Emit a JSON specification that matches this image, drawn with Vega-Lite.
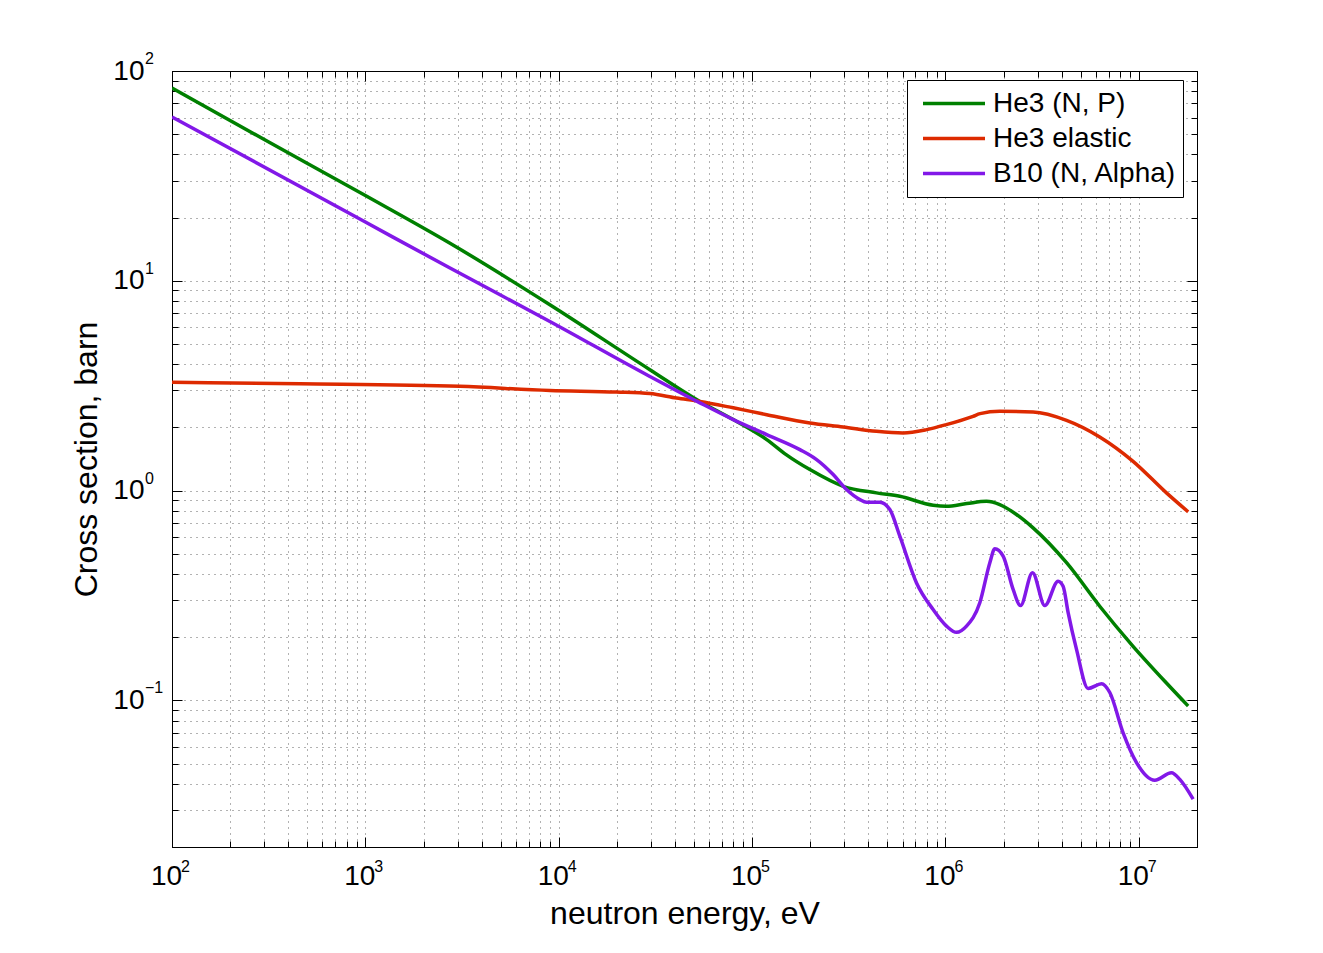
{
  "$schema": "https://vega.github.io/schema/vega-lite/v6.json",
  "width": 1025,
  "height": 776,
  "autosize": {"type": "none"},
  "padding": {"left": 172, "top": 71, "right": 126, "bottom": 106},
  "background": "white",
  "datasets": {
    "curves": [
      {"reaction": "He3 (N, P)", "energy": 100, "xs": 83.0},
      {"reaction": "He3 (N, P)", "energy": 300, "xs": 47.1},
      {"reaction": "He3 (N, P)", "energy": 1000, "xs": 25.5},
      {"reaction": "He3 (N, P)", "energy": 2740, "xs": 15.1},
      {"reaction": "He3 (N, P)", "energy": 9000, "xs": 7.69},
      {"reaction": "He3 (N, P)", "energy": 29600, "xs": 3.77},
      {"reaction": "He3 (N, P)", "energy": 53700, "xs": 2.66},
      {"reaction": "He3 (N, P)", "energy": 79900, "xs": 2.18},
      {"reaction": "He3 (N, P)", "energy": 119000, "xs": 1.75},
      {"reaction": "He3 (N, P)", "energy": 150000, "xs": 1.484},
      {"reaction": "He3 (N, P)", "energy": 199000, "xs": 1.259},
      {"reaction": "He3 (N, P)", "energy": 296000, "xs": 1.048},
      {"reaction": "He3 (N, P)", "energy": 440000, "xs": 0.975},
      {"reaction": "He3 (N, P)", "energy": 581000, "xs": 0.939},
      {"reaction": "He3 (N, P)", "energy": 864000, "xs": 0.851},
      {"reaction": "He3 (N, P)", "energy": 1010000, "xs": 0.842},
      {"reaction": "He3 (N, P)", "energy": 1290000, "xs": 0.867},
      {"reaction": "He3 (N, P)", "energy": 1630000, "xs": 0.889},
      {"reaction": "He3 (N, P)", "energy": 1910000, "xs": 0.858},
      {"reaction": "He3 (N, P)", "energy": 2330000, "xs": 0.769},
      {"reaction": "He3 (N, P)", "energy": 2840000, "xs": 0.664},
      {"reaction": "He3 (N, P)", "energy": 4230000, "xs": 0.453},
      {"reaction": "He3 (N, P)", "energy": 6280000, "xs": 0.281},
      {"reaction": "He3 (N, P)", "energy": 9340000, "xs": 0.181},
      {"reaction": "He3 (N, P)", "energy": 13900000, "xs": 0.121},
      {"reaction": "He3 (N, P)", "energy": 18000000, "xs": 0.094},

      {"reaction": "He3 elastic", "energy": 100, "xs": 3.28},
      {"reaction": "He3 elastic", "energy": 459, "xs": 3.23},
      {"reaction": "He3 elastic", "energy": 3080, "xs": 3.14},
      {"reaction": "He3 elastic", "energy": 9000, "xs": 3.0},
      {"reaction": "He3 elastic", "energy": 19900, "xs": 2.95},
      {"reaction": "He3 elastic", "energy": 29600, "xs": 2.9},
      {"reaction": "He3 elastic", "energy": 40700, "xs": 2.76},
      {"reaction": "He3 elastic", "energy": 53700, "xs": 2.66},
      {"reaction": "He3 elastic", "energy": 79900, "xs": 2.48},
      {"reaction": "He3 elastic", "energy": 119000, "xs": 2.3},
      {"reaction": "He3 elastic", "energy": 199000, "xs": 2.1},
      {"reaction": "He3 elastic", "energy": 296000, "xs": 2.01},
      {"reaction": "He3 elastic", "energy": 440000, "xs": 1.916},
      {"reaction": "He3 elastic", "energy": 604000, "xs": 1.883},
      {"reaction": "He3 elastic", "energy": 799000, "xs": 1.952},
      {"reaction": "He3 elastic", "energy": 1010000, "xs": 2.062},
      {"reaction": "He3 elastic", "energy": 1390000, "xs": 2.259},
      {"reaction": "He3 elastic", "energy": 1510000, "xs": 2.326},
      {"reaction": "He3 elastic", "energy": 1910000, "xs": 2.386},
      {"reaction": "He3 elastic", "energy": 2840000, "xs": 2.37},
      {"reaction": "He3 elastic", "energy": 4230000, "xs": 2.162},
      {"reaction": "He3 elastic", "energy": 6280000, "xs": 1.802},
      {"reaction": "He3 elastic", "energy": 9340000, "xs": 1.379},
      {"reaction": "He3 elastic", "energy": 13900000, "xs": 0.975},
      {"reaction": "He3 elastic", "energy": 18000000, "xs": 0.792},

      {"reaction": "B10 (N, Alpha)", "energy": 100, "xs": 60.4},
      {"reaction": "B10 (N, Alpha)", "energy": 1000, "xs": 19.05},
      {"reaction": "B10 (N, Alpha)", "energy": 2740, "xs": 11.5},
      {"reaction": "B10 (N, Alpha)", "energy": 9000, "xs": 6.4},
      {"reaction": "B10 (N, Alpha)", "energy": 29600, "xs": 3.5},
      {"reaction": "B10 (N, Alpha)", "energy": 53700, "xs": 2.62},
      {"reaction": "B10 (N, Alpha)", "energy": 79900, "xs": 2.18},
      {"reaction": "B10 (N, Alpha)", "energy": 119000, "xs": 1.848},
      {"reaction": "B10 (N, Alpha)", "energy": 176700, "xs": 1.567},
      {"reaction": "B10 (N, Alpha)", "energy": 215600, "xs": 1.405},
      {"reaction": "B10 (N, Alpha)", "energy": 262700, "xs": 1.192},
      {"reaction": "B10 (N, Alpha)", "energy": 308000, "xs": 1.011},
      {"reaction": "B10 (N, Alpha)", "energy": 360900, "xs": 0.906},
      {"reaction": "B10 (N, Alpha)", "energy": 390800, "xs": 0.88},
      {"reaction": "B10 (N, Alpha)", "energy": 458000, "xs": 0.88},
      {"reaction": "B10 (N, Alpha)", "energy": 515800, "xs": 0.812},
      {"reaction": "B10 (N, Alpha)", "energy": 580900, "xs": 0.606},
      {"reaction": "B10 (N, Alpha)", "energy": 708700, "xs": 0.363},
      {"reaction": "B10 (N, Alpha)", "energy": 863700, "xs": 0.271},
      {"reaction": "B10 (N, Alpha)", "energy": 1013000, "xs": 0.226},
      {"reaction": "B10 (N, Alpha)", "energy": 1141000, "xs": 0.211},
      {"reaction": "B10 (N, Alpha)", "energy": 1285000, "xs": 0.226},
      {"reaction": "B10 (N, Alpha)", "energy": 1506000, "xs": 0.292},
      {"reaction": "B10 (N, Alpha)", "energy": 1697000, "xs": 0.453},
      {"reaction": "B10 (N, Alpha)", "energy": 1800000, "xs": 0.528},
      {"reaction": "B10 (N, Alpha)", "energy": 1988000, "xs": 0.487},
      {"reaction": "B10 (N, Alpha)", "energy": 2239000, "xs": 0.338},
      {"reaction": "B10 (N, Alpha)", "energy": 2445000, "xs": 0.283},
      {"reaction": "B10 (N, Alpha)", "energy": 2820000, "xs": 0.406},
      {"reaction": "B10 (N, Alpha)", "energy": 3266000, "xs": 0.283},
      {"reaction": "B10 (N, Alpha)", "energy": 3825000, "xs": 0.37},
      {"reaction": "B10 (N, Alpha)", "energy": 4061000, "xs": 0.35},
      {"reaction": "B10 (N, Alpha)", "energy": 4311000, "xs": 0.262},
      {"reaction": "B10 (N, Alpha)", "energy": 4763000, "xs": 0.175},
      {"reaction": "B10 (N, Alpha)", "energy": 5470000, "xs": 0.114},
      {"reaction": "B10 (N, Alpha)", "energy": 6414000, "xs": 0.12},
      {"reaction": "B10 (N, Alpha)", "energy": 7080000, "xs": 0.109},
      {"reaction": "B10 (N, Alpha)", "energy": 8298000, "xs": 0.07},
      {"reaction": "B10 (N, Alpha)", "energy": 9730000, "xs": 0.0505},
      {"reaction": "B10 (N, Alpha)", "energy": 12100000, "xs": 0.0416},
      {"reaction": "B10 (N, Alpha)", "energy": 14760000, "xs": 0.0452},
      {"reaction": "B10 (N, Alpha)", "energy": 16300000, "xs": 0.042},
      {"reaction": "B10 (N, Alpha)", "energy": 19100000, "xs": 0.0338}
    ],
    "xDecades": [
      {"energy": 100, "exponent": "2"},
      {"energy": 1000, "exponent": "3"},
      {"energy": 10000, "exponent": "4"},
      {"energy": 100000, "exponent": "5"},
      {"energy": 1000000, "exponent": "6"},
      {"energy": 10000000, "exponent": "7"}
    ],
    "yDecades": [
      {"xs": 0.1, "exponent": "−1"},
      {"xs": 1, "exponent": "0"},
      {"xs": 10, "exponent": "1"},
      {"xs": 100, "exponent": "2"}
    ]
  },
  "layer": [
    {
      "data": {"name": "curves"},
      "mark": {"type": "line", "strokeWidth": 3.5, "interpolate": "monotone", "clip": true},
      "encoding": {
        "x": {
          "field": "energy",
          "type": "quantitative",
          "scale": {"type": "log", "domain": [100, 20000000], "nice": false},
          "axis": {
            "orient": "bottom",
            "values": [100, 200, 300, 400, 500, 600, 700, 800, 900,
                       1000, 2000, 3000, 4000, 5000, 6000, 7000, 8000, 9000,
                       10000, 20000, 30000, 40000, 50000, 60000, 70000, 80000, 90000,
                       100000, 200000, 300000, 400000, 500000, 600000, 700000, 800000, 900000,
                       1000000, 2000000, 3000000, 4000000, 5000000, 6000000, 7000000, 8000000, 9000000,
                       10000000, 20000000],
            "labelExpr": "abs(log(datum.value)/LN10 - round(log(datum.value)/LN10)) < 0.001 ? '10' : ''",
            "labelFontSize": 28,
            "labelFont": "Liberation Sans",
            "labelColor": "black",
            "labelBaseline": "top",
            "labelAlign": "center",
            "labelOffset": -6,
            "labelPadding": 25,
            "labelOverlap": false,
            "labelFlush": false,
            "tickSize": {"condition": {"test": "abs(log(datum.value)/LN10 - round(log(datum.value)/LN10)) < 0.001", "value": -10}, "value": -6},
            "tickColor": "black",
            "tickWidth": 1,
            "domainColor": "black",
            "domainWidth": 1,
            "grid": true,
            "gridDash": [1, 5],
            "gridColor": "#222222",
            "gridOpacity": 0.7,
            "gridWidth": 1,
            "title": "neutron energy, eV",
            "titleFont": "Liberation Sans",
            "titleFontSize": 32,
            "titleFontWeight": "normal",
            "titleColor": "black",
            "titleX": 512.5,
            "titleY": 76,
            "titleAlign": "center",
            "titleBaseline": "alphabetic"
          }
        },
        "y": {
          "field": "xs",
          "type": "quantitative",
          "scale": {"type": "log", "domain": [0.02, 100], "nice": false},
          "axis": {
            "orient": "left",
            "values": [0.02, 0.03, 0.04, 0.05, 0.06, 0.07, 0.08, 0.09,
                       0.1, 0.2, 0.3, 0.4, 0.5, 0.6, 0.7, 0.8, 0.9,
                       1, 2, 3, 4, 5, 6, 7, 8, 9,
                       10, 20, 30, 40, 50, 60, 70, 80, 90, 100],
            "labelExpr": "abs(log(datum.value)/LN10 - round(log(datum.value)/LN10)) < 0.001 ? '10' : ''",
            "labelFontSize": 28,
            "labelFont": "Liberation Sans",
            "labelColor": "black",
            "labelAlign": "right",
            "labelBaseline": "middle",
            "labelPadding": 38,
            "labelOverlap": false,
            "labelFlush": false,
            "tickSize": {"condition": {"test": "abs(log(datum.value)/LN10 - round(log(datum.value)/LN10)) < 0.001", "value": -10}, "value": -6},
            "tickColor": "black",
            "tickWidth": 1,
            "domainColor": "black",
            "domainWidth": 1,
            "grid": true,
            "gridDash": [1, 5],
            "gridColor": "#222222",
            "gridOpacity": 0.7,
            "gridWidth": 1,
            "title": "Cross section, barn",
            "titleFont": "Liberation Sans",
            "titleFontSize": 32,
            "titleFontWeight": "normal",
            "titleColor": "black",
            "titleAngle": -90,
            "titleX": -86,
            "titleY": 388,
            "titleAlign": "center",
            "titleBaseline": "middle"
          }
        },
        "color": {
          "field": "reaction",
          "type": "nominal",
          "scale": {
            "domain": ["He3 (N, P)", "He3 elastic", "B10 (N, Alpha)"],
            "range": ["#008000", "#dd2a00", "#8218e8"]
          },
          "legend": {
            "title": null,
            "orient": "none",
            "legendX": 735,
            "legendY": 9,
            "symbolType": "stroke",
            "symbolSize": 3844,
            "symbolStrokeWidth": 3.5,
            "clipHeight": 35,
            "rowPadding": 0,
            "symbolOffset": 8,
            "labelOffset": 6,
            "labelFont": "Liberation Sans",
            "labelFontSize": 28,
            "labelColor": "black",
            "labelLimit": 400,
            "padding": 6,
            "strokeColor": "black",
            "fillColor": "white",
            "cornerRadius": 0
          }
        }
      }
    },
    {
      "data": {"name": "xDecades"},
      "mark": {"type": "text", "align": "left", "baseline": "middle", "dx": 9, "dy": 20, "fontSize": 16, "font": "Liberation Sans", "color": "black"},
      "encoding": {
        "x": {
          "field": "energy",
          "type": "quantitative",
          "axis": {
            "orient": "top",
            "values": [100, 200, 300, 400, 500, 600, 700, 800, 900,
                       1000, 2000, 3000, 4000, 5000, 6000, 7000, 8000, 9000,
                       10000, 20000, 30000, 40000, 50000, 60000, 70000, 80000, 90000,
                       100000, 200000, 300000, 400000, 500000, 600000, 700000, 800000, 900000,
                       1000000, 2000000, 3000000, 4000000, 5000000, 6000000, 7000000, 8000000, 9000000,
                       10000000, 20000000],
            "labels": false,
            "grid": false,
            "tickSize": {"condition": {"test": "abs(log(datum.value)/LN10 - round(log(datum.value)/LN10)) < 0.001", "value": -10}, "value": -6},
            "tickColor": "black",
            "domainColor": "black",
            "title": null
          }
        },
        "y": {"datum": 0.02, "type": "quantitative", "axis": null},
        "text": {"field": "exponent"}
      }
    },
    {
      "data": {"name": "yDecades"},
      "mark": {"type": "text", "align": "left", "baseline": "middle", "dx": -27, "dy": -12, "fontSize": 16, "font": "Liberation Sans", "color": "black"},
      "encoding": {
        "x": {"datum": 100, "type": "quantitative", "axis": null},
        "y": {
          "field": "xs",
          "type": "quantitative",
          "axis": {
            "orient": "right",
            "values": [0.02, 0.03, 0.04, 0.05, 0.06, 0.07, 0.08, 0.09,
                       0.1, 0.2, 0.3, 0.4, 0.5, 0.6, 0.7, 0.8, 0.9,
                       1, 2, 3, 4, 5, 6, 7, 8, 9,
                       10, 20, 30, 40, 50, 60, 70, 80, 90, 100],
            "labels": false,
            "grid": false,
            "tickSize": {"condition": {"test": "abs(log(datum.value)/LN10 - round(log(datum.value)/LN10)) < 0.001", "value": -10}, "value": -6},
            "tickColor": "black",
            "domainColor": "black",
            "title": null
          }
        },
        "text": {"field": "exponent"}
      }
    }
  ],
  "resolve": {"axis": {"x": "independent", "y": "independent"}},
  "config": {
    "font": "Liberation Sans",
    "view": {"stroke": "black", "strokeWidth": 1}
  }
}
